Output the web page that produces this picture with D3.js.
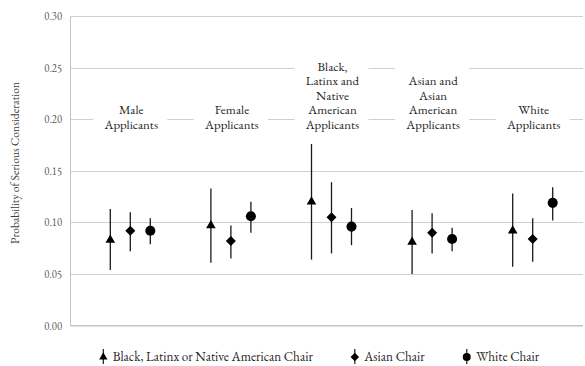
<!DOCTYPE html>
<html>
<head>
<meta charset="utf-8">
<script src="https://cdn.jsdelivr.net/npm/d3@7"></script>
<style>
  html, body { margin: 0; padding: 0; background: #fff; }
</style>
</head>
<body>
<svg id="chart" width="585" height="366"></svg>
<script>
// Applicant groups (category axis)
const groups = ["Male", "Female", "BLNA", "AsianApp", "WhiteApp"];
const groupLabels = [
  ["Male", "Applicants"],
  ["Female", "Applicants"],
  ["Black,", "Latinx and", "Native", "American", "Applicants"],
  ["Asian and", "Asian", "American", "Applicants"],
  ["White", "Applicants"]
];

// Chair series
const series = ["Black, Latinx or Native American Chair", "Asian Chair", "White Chair"];

// Point estimates per group, one array per chair series
const blnaChair  = [0.083, 0.097, 0.120, 0.081, 0.092];
const asianChair = [0.092, 0.082, 0.105, 0.090, 0.084];
const whiteChair = [0.092, 0.106, 0.096, 0.084, 0.119];

// Confidence interval bounds
const blnaLow   = [0.054, 0.061, 0.064, 0.050, 0.057];
const blnaHigh  = [0.113, 0.133, 0.176, 0.112, 0.128];
const asianLow  = [0.072, 0.065, 0.070, 0.070, 0.062];
const asianHigh = [0.110, 0.097, 0.139, 0.109, 0.104];
const whiteLow  = [0.079, 0.090, 0.078, 0.072, 0.102];
const whiteHigh = [0.104, 0.120, 0.114, 0.095, 0.134];

const yTicks = [0, 0.05, 0.10, 0.15, 0.20, 0.25, 0.30];
const yTitle = "Probability of Serious Consideration";

const estimates = [blnaChair, asianChair, whiteChair];
const lows = [blnaLow, asianLow, whiteLow];
const highs = [blnaHigh, asianHigh, whiteHigh];

const FONT = '"EB Garamond", "Liberation Serif", serif';

const svg = d3.select("#chart").style("font-family", FONT);
const axisX = 70.5, plotRight = 583;

const y = d3.scaleLinear().domain([0, 0.30]).range([325.7, 16]);
const x = d3.scaleBand().domain(groups).range([80, 583]);
const xs = d3.scalePoint().domain(series).range([-20, 20]);
const cx = g => x(g) + x.bandwidth() / 2;

// Horizontal gridlines
svg.append("g").selectAll("line").data(yTicks.filter(t => t > 0)).join("line")
  .attr("x1", axisX).attr("x2", plotRight)
  .attr("y1", d => Math.round(y(d)) + 0.5).attr("y2", d => Math.round(y(d)) + 0.5)
  .attr("stroke", "#d0d0d0").attr("stroke-width", 1);

// Baseline and vertical axis
svg.append("line").attr("x1", axisX).attr("x2", plotRight)
  .attr("y1", y(0)).attr("y2", y(0))
  .attr("stroke", "#c4c4c4").attr("stroke-width", 1.6);
svg.append("line").attr("x1", axisX).attr("x2", axisX)
  .attr("y1", Math.round(y(0.30)) + 0.5).attr("y2", y(0))
  .attr("stroke", "#c4c4c4").attr("stroke-width", 1);

// Tick labels
const yAxis = d3.axisLeft(y).tickValues(yTicks).tickFormat(d3.format(".2f")).tickSize(0).tickPadding(8.5);
const ya = svg.append("g").attr("transform", `translate(${axisX},0)`).call(yAxis);
ya.attr("font-family", null).attr("font-size", null);
ya.select(".domain").remove();
ya.selectAll("text").style("font-family", FONT).style("font-size", "10.6px").attr("fill", "#595959");

// Axis title
svg.append("text")
  .attr("transform", "translate(19,163) rotate(-90)")
  .attr("text-anchor", "middle")
  .style("font-family", FONT).style("font-size", "11.6px")
  .attr("fill", "#404040")
  .text(yTitle);

// Group label boxes that sit over the gridlines
const lineH = 14.5, lastBaseline = 128.5;
const labels = svg.append("g");
groups.forEach((g, i) => {
  const lines = groupLabels[i];
  const top = lines.length > 2 ? 55 : 100;
  labels.append("rect")
    .attr("x", cx(g) - 37).attr("y", top)
    .attr("width", 74).attr("height", 132 - top)
    .attr("fill", "#fff");
  const t = labels.append("text").attr("text-anchor", "middle")
    .style("font-family", FONT).style("font-size", "12.9px")
    .attr("fill", "#262626");
  lines.forEach((ln, j) => {
    t.append("tspan").attr("x", cx(g) + 1)
      .attr("y", lastBaseline - (lines.length - 1 - j) * lineH)
      .text(ln);
  });
});

// Marker shapes per chair series
const symbols = [
  d3.symbol().type(d3.symbolTriangle).size(40),
  d3.symbol().type(d3.symbolSquare).size(50),
  d3.symbol().type(d3.symbolCircle).size(80)
];
const rotations = [0, 45, 0];

const marks = svg.append("g");
series.forEach((s, si) => {
  const pts = groups.map((g, gi) => ({
    x: cx(g) + xs(s), v: estimates[si][gi], lo: lows[si][gi], hi: highs[si][gi]
  }));
  marks.append("g").selectAll("line").data(pts).join("line")
    .attr("x1", d => d.x).attr("x2", d => d.x)
    .attr("y1", d => y(d.hi)).attr("y2", d => y(d.lo))
    .attr("stroke", "#1a1a1a").attr("stroke-width", 1.3);
  marks.append("g").selectAll("path").data(pts).join("path")
    .attr("d", symbols[si]())
    .attr("transform", d => `translate(${d.x},${y(d.v)}) rotate(${rotations[si]})`)
    .attr("fill", "#000");
});

// Legend
const legendY = 357;
const legend = svg.append("g");
let lx = 103.3;
series.forEach((s, si) => {
  const item = legend.append("g");
  item.append("line").attr("x1", lx).attr("x2", lx)
    .attr("y1", legendY - 8).attr("y2", legendY + 7)
    .attr("stroke", "#1a1a1a").attr("stroke-width", 1.2);
  item.append("path")
    .attr("d", d3.symbol().type([d3.symbolTriangle, d3.symbolSquare, d3.symbolCircle][si]).size([30, 36, 50][si])())
    .attr("transform", `translate(${lx},${legendY}) rotate(${rotations[si]})`)
    .attr("fill", "#000");
  const txt = item.append("text").attr("x", lx + 9.4).attr("y", legendY + 4.3)
    .style("font-family", FONT).style("font-size", "13.2px")
    .attr("fill", "#262626").text(s);
  lx = lx + 9.4 + txt.node().getComputedTextLength() + 42;
});
</script>
</body>
</html>
